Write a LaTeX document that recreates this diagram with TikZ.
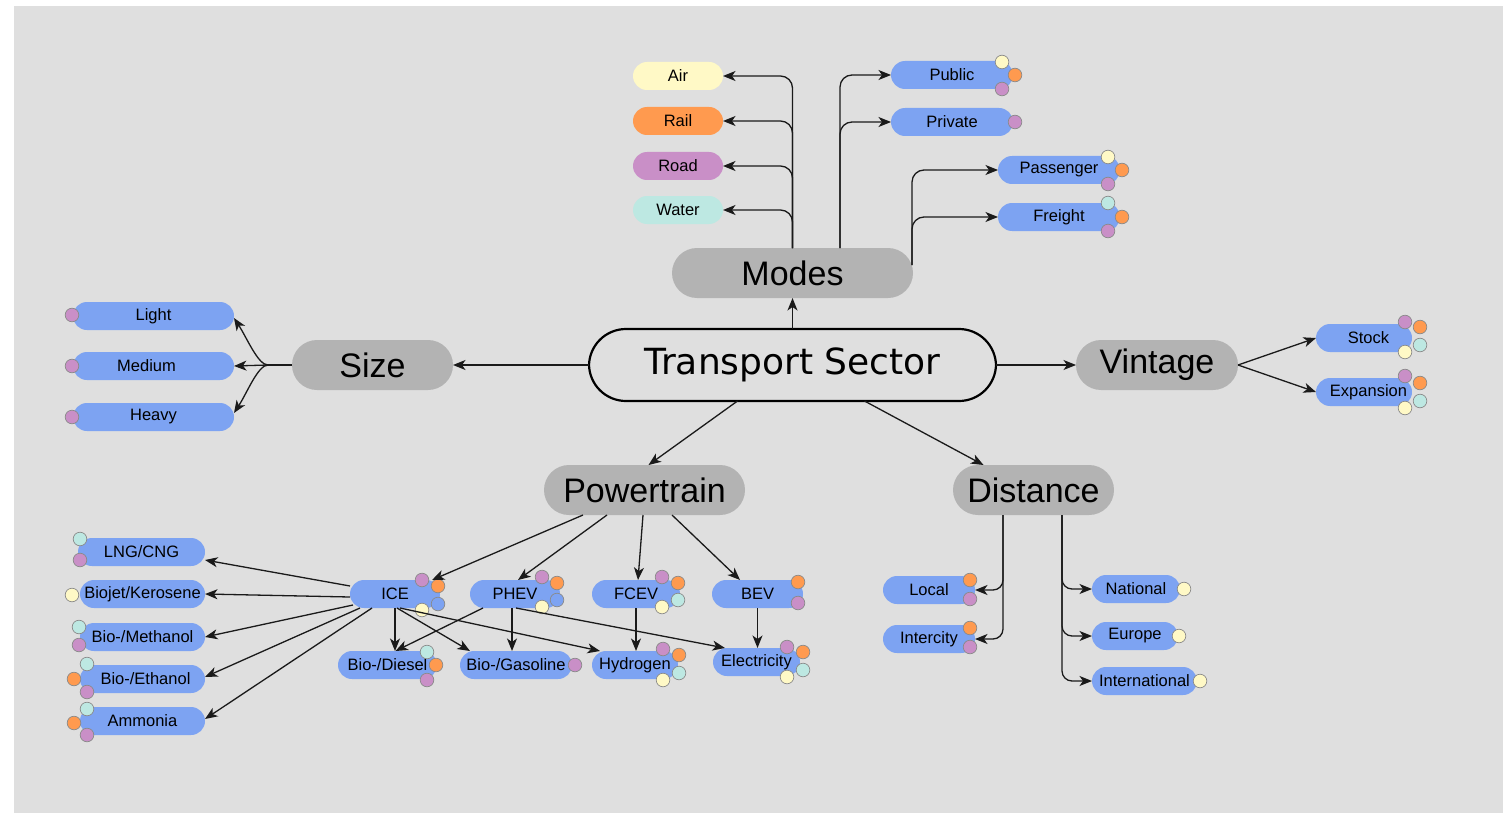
\documentclass[tikz,border=0pt]{standalone}
\usepackage{fontspec}
\setmainfont{Liberation Sans}
\newfontfamily\titlefont{DejaVu Sans}
\usetikzlibrary{arrows.meta}

\definecolor{bgc}{HTML}{DFDFDF}
\definecolor{leafblue}{HTML}{7DA3F2}
\definecolor{catgray}{HTML}{B3B3B3}
\definecolor{cyel}{HTML}{FFF9C6}
\definecolor{corange}{HTML}{FF9A4F}
\definecolor{cpurp}{HTML}{C98FC7}
\definecolor{ccyan}{HTML}{BDE8E2}
\definecolor{pipedge}{HTML}{8A8A8A}
\definecolor{linec}{HTML}{1A1A1A}

% small coloured marker disc
\newcommand\pip[3]{\filldraw[pip,fill=#1] (#2,#3) circle[radius=6.8pt];}

\begin{document}
\begin{tikzpicture}[x=1pt,y=-1pt,
  every node/.style={inner sep=0pt, outer sep=0pt, text=black},
  leaf/.style={rectangle, rounded corners=14pt, minimum height=28pt, fill=leafblue,
    font=\fontsize{16.5}{18}\selectfont},
  cat/.style={rectangle, rounded corners=25pt, minimum height=50pt, fill=catgray,
    font=\fontsize{34}{38}\selectfont},
  link/.style={draw=linec, line width=1.3pt, -{Stealth[length=12.5pt,width=10pt,inset=3.5pt]}},
  plain/.style={draw=linec, line width=1.3pt},
  pip/.style={draw=pipedge, line width=0.7pt}
]
\useasboundingbox (0,0) rectangle (1503,813);
\fill[white] (0,0) rectangle (1503,813);
\fill[bgc] (14,6) rectangle (1503,813);

% centre node
\node[draw=black, line width=2.2pt, rounded corners=37pt, minimum width=407pt,
  minimum height=72pt, font=\titlefont\fontsize{36}{40}\selectfont] (ts) at (792.5,365) {Transport Sector};

% categories
\node[cat, minimum width=241pt] (modes) at (792.5,273) {Modes};
\node[cat, minimum width=161pt] (size) at (372.5,365) {Size};
\node[cat, minimum width=162pt] (vintage) at (1157,365) {Vintage};
\node[cat, minimum width=201pt] (power) at (644.5,490) {Powertrain};
\node[cat, minimum width=161pt] (dist) at (1033.5,490) {Distance};

% modes
\node[leaf, fill=cyel, minimum width=90pt] (air) at (678,76) {Air};
\node[leaf, fill=corange, minimum width=90pt] (rail) at (678,121) {Rail};
\node[leaf, fill=cpurp, minimum width=90pt] (road) at (678,166) {Road};
\node[leaf, fill=ccyan, minimum width=90pt] (water) at (678,210) {Water};
\node[leaf, minimum width=122pt] (public) at (952,75) {Public};
\node[leaf, minimum width=122pt] (private) at (952,122) {Private};
\node[leaf, minimum width=122pt] (passenger) at (1059,170) {Passenger};
\node[leaf, minimum width=122pt] (freight) at (1059,217) {Freight};

% size
\node[leaf, minimum width=161pt] (light) at (153.5,316) {Light};
\node[leaf, minimum width=161pt] (medium) at (153.5,366) {Medium\kern14pt};
\node[leaf, minimum width=161pt] (heavy) at (153.5,417) {Heavy};

% vintage
\node[leaf, minimum width=96pt] (stock) at (1364,338) {\hspace{9pt}Stock};
\node[leaf, minimum width=96pt] (expansion) at (1364,392) {\hspace{9pt}Expansion};

% distance
\node[leaf, minimum width=92pt] (local) at (929,590) {Local};
\node[leaf, minimum width=92pt] (intercity) at (929,639) {Intercity};
\node[leaf, minimum width=88pt] (national) at (1136,589) {National};
\node[leaf, minimum width=86pt] (europe) at (1135,636) {Europe};
\node[leaf, minimum width=105pt] (intl) at (1144.5,681) {International};

% powertrains and energy carriers
\node[leaf, minimum width=90pt] (ice) at (395,594) {ICE};
\node[leaf, minimum width=90pt] (phev) at (515,594) {PHEV};
\node[leaf, minimum width=88pt] (fcev) at (636,594) {FCEV};
\node[leaf, minimum width=91pt] (bev) at (757.5,594) {BEV};
\node[leaf, minimum width=99pt] (diesel) at (387.5,665) {Bio-/Diesel};
\node[leaf, minimum width=112pt] (gasoline) at (516,665) {Bio-/Gasoline};
\node[leaf, minimum width=86pt] (hydrogen) at (635,665) {Hydrogen};
\node[leaf, minimum width=87pt] (elec) at (756.5,662) {Electricity};
\node[leaf, minimum width=127pt] (lng) at (141.5,552) {LNG/CNG};
\node[leaf, minimum width=125pt] (biojet) at (142.5,594) {Biojet/Kerosene};
\node[leaf, minimum width=125pt] (meth) at (142.5,637) {Bio-/Methanol};
\node[leaf, minimum width=125pt] (eth) at (142.5,679) {\hspace{6pt}Bio-/Ethanol};
\node[leaf, minimum width=125pt] (amm) at (142.5,721) {Ammonia};

% marker discs
\pip{cyel}{1002}{62}\pip{corange}{1015}{75}\pip{cpurp}{1002}{89}
\pip{cpurp}{1015}{122}
\pip{cyel}{1108}{157}\pip{corange}{1122}{170}\pip{cpurp}{1108}{184}
\pip{ccyan}{1108}{203}\pip{corange}{1122}{217}\pip{cpurp}{1108}{231}
\pip{cpurp}{72}{315}\pip{cpurp}{72}{366}\pip{cpurp}{72}{417}
\pip{cpurp}{1405}{322}\pip{corange}{1420}{327}\pip{ccyan}{1420}{345}\pip{cyel}{1405}{352}
\pip{cpurp}{1405}{376}\pip{corange}{1420}{383}\pip{ccyan}{1420}{401}\pip{cyel}{1405}{408}
\pip{corange}{970}{580}\pip{cpurp}{970}{599}
\pip{corange}{970}{628}\pip{cpurp}{970}{647}
\pip{cyel}{1184}{589}\pip{cyel}{1179}{636}\pip{cyel}{1200}{681}
\pip{cpurp}{422}{580}\pip{corange}{438}{586}\pip{leafblue}{438}{604}\pip{cyel}{422}{610}
\pip{cpurp}{542}{577}\pip{corange}{557}{583}\pip{leafblue}{557}{600}\pip{cyel}{542}{607}
\pip{cpurp}{662}{577}\pip{corange}{678}{583}\pip{ccyan}{678}{600}\pip{cyel}{662}{607}
\pip{corange}{798}{582}\pip{cpurp}{798}{603}
\pip{ccyan}{427}{652}\pip{corange}{436}{665}\pip{cpurp}{427}{680}
\pip{cpurp}{575}{665}
\pip{cpurp}{663}{649}\pip{corange}{679}{655}\pip{ccyan}{679}{673}\pip{cyel}{663}{680}
\pip{cpurp}{787}{647}\pip{corange}{803}{652}\pip{ccyan}{803}{670}\pip{cyel}{787}{677}
\pip{ccyan}{80}{539}\pip{cpurp}{80}{560}
\pip{cyel}{72}{595}
\pip{ccyan}{79}{627}\pip{cpurp}{79}{645}
\pip{ccyan}{87}{664}\pip{corange}{74}{679}\pip{cpurp}{87}{692}
\pip{ccyan}{87}{709}\pip{corange}{74}{723}\pip{cpurp}{87}{735}

% centre to categories
\draw[link] (ts.north) -- (modes.south);
\draw[link] (ts.west) -- (size.east);
\draw[link] (ts.east) -- (vintage.west);
\draw[link] ([xshift=-55pt]ts.south) -- ([xshift=4pt]power.north);
\draw[link] ([xshift=72pt]ts.south) -- ([xshift=-50pt]dist.north);

% modes branches
\draw[link, rounded corners=12pt] (modes.north) |- (air.east);
\draw[link, rounded corners=12pt] (modes.north) |- (rail.east);
\draw[link, rounded corners=12pt] (modes.north) |- (road.east);
\draw[link, rounded corners=12pt] (modes.north) |- (water.east);
\draw[link, rounded corners=12pt] ([xshift=47.5pt]modes.north) |- (public.west);
\draw[link, rounded corners=12pt] ([xshift=47.5pt]modes.north) |- (private.west);
\draw[link, rounded corners=12pt] ([xshift=-1pt,yshift=8pt]modes.east) |- (passenger.west);
\draw[link, rounded corners=12pt] ([xshift=-1pt,yshift=8pt]modes.east) |- (freight.west);

% size branches
\coordinate (sj) at ([xshift=-24pt]size.west);
\draw[plain] (size.west) -- (sj);
\draw[link] (sj) -- (medium.east);
\draw[link] (sj) .. controls +(-10,0) and +(13,20) .. ([yshift=-2pt]light.east);
\draw[link] (sj) .. controls +(-10,0) and +(13,-20) .. ([yshift=4pt]heavy.east);

% vintage branches
\draw[link] (vintage.east) -- (stock.west);
\draw[link] (vintage.east) -- (expansion.west);

% distance branches
\draw[link, rounded corners=10pt] ([xshift=-30.5pt]dist.south) |- (local.east);
\draw[link, rounded corners=10pt] ([xshift=-30.5pt]dist.south) |- (intercity.east);
\draw[link, rounded corners=10pt] ([xshift=28.5pt]dist.south) |- (national.west);
\draw[link, rounded corners=10pt] ([xshift=28.5pt]dist.south) |- (europe.west);
\draw[link, rounded corners=10pt] ([xshift=28.5pt]dist.south) |- (intl.west);

% powertrain branches
\draw[link] ([xshift=-61.5pt]power.south) -- ([xshift=37pt]ice.north);
\draw[link] ([xshift=-37.5pt]power.south) -- ([xshift=3pt]phev.north);
\draw[link] ([xshift=-1.5pt]power.south) -- ([xshift=2pt]fcev.north);
\draw[link] ([xshift=27.5pt]power.south) -- ([xshift=-17.5pt]bev.north);

% fuels of ICE
\draw[link] ([yshift=8pt]ice.west) -- ([yshift=-8pt]lng.east);
\draw[link] ([yshift=-3pt]ice.west) -- (biojet.east);
\draw[link] ([xshift=3pt,yshift=3pt]ice.south west) -- (meth.east);
\draw[link] ([xshift=10pt]ice.south west) -- ([yshift=2pt]eth.east);
\draw[link] ([xshift=22pt]ice.south west) -- ([yshift=2pt]amm.east);
\draw[link] (ice.south) -- ([xshift=7.5pt]diesel.north);
\draw[link] ([xshift=2pt]ice.south) -- ([xshift=-46pt]gasoline.north);
\draw[link] ([xshift=5pt]ice.south) -- ([xshift=-35pt]hydrogen.north);

% fuels of PHEV, FCEV and BEV
\draw[link] ([xshift=-32pt]phev.south) -- ([xshift=8pt]diesel.north);
\draw[link] ([xshift=-3pt]phev.south) -- ([xshift=-4pt]gasoline.north);
\draw[link] ([xshift=1pt]phev.south) -- ([xshift=-31.5pt]elec.north);
\draw[link] (fcev.south) -- ([xshift=1pt]hydrogen.north);
\draw[link] (bev.south) -- ([xshift=1pt]elec.north);
\end{tikzpicture}
\end{document}
